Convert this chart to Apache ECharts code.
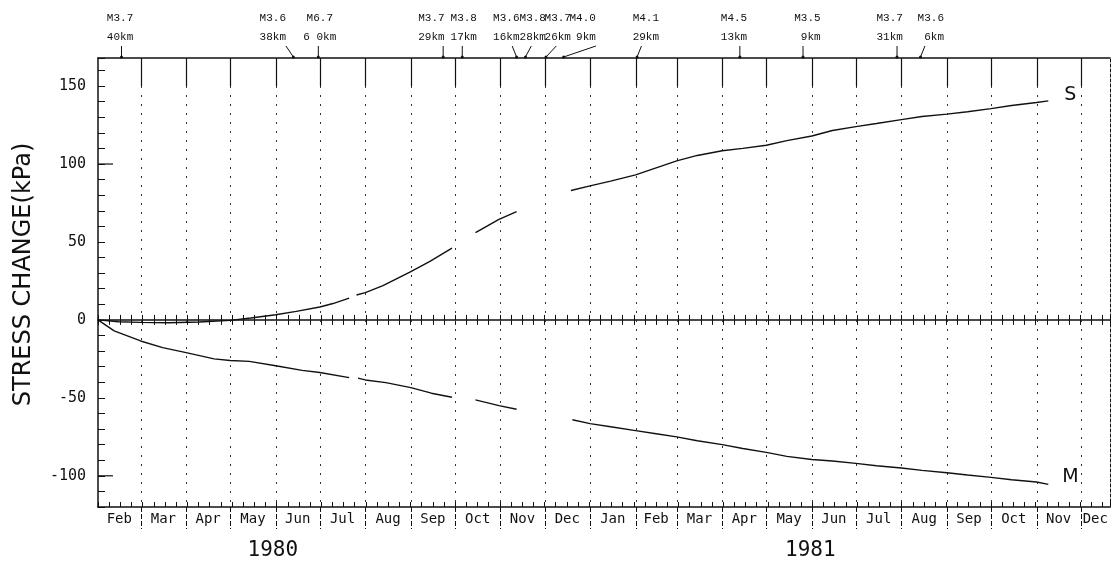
<!DOCTYPE html>
<html><head><meta charset="utf-8">
<script src="https://cdn.jsdelivr.net/npm/echarts@6/dist/echarts.min.js"></script>
<style>html,body{margin:0;padding:0;background:#fff}#c{width:1117px;height:567px}</style>
</head><body><div id="c"></div>
<script>
// ---------------- data ----------------
const axisStart = '1980-02-01';
const axisEnd = '1981-12-21';
const monthStarts = ['1980-02-01','1980-03-01','1980-04-01','1980-05-01','1980-06-01','1980-07-01','1980-08-01','1980-09-01','1980-10-01','1980-11-01','1980-12-01','1981-01-01','1981-02-01','1981-03-01','1981-04-01','1981-05-01','1981-06-01','1981-07-01','1981-08-01','1981-09-01','1981-10-01','1981-11-01','1981-12-01'];
const monthNames = ['Feb','Mar','Apr','May','Jun','Jul','Aug','Sep','Oct','Nov','Dec','Jan','Feb','Mar','Apr','May','Jun','Jul','Aug','Sep','Oct','Nov','Dec'];
const yearNames = ['1980','1981'];
const yearDates = ['1980-05-30','1981-05-31'];
const yTickLabels = [150, 100, 50, 0, -50, -100];

// S component (recorded segments)
const sDates1 = ['1980-02-01','1980-02-15','1980-03-01','1980-03-20','1980-04-10','1980-05-01','1980-05-15','1980-06-01','1980-06-15','1980-07-01','1980-07-10','1980-07-21'];
const sVals1  = [0, -1.2, -1.6, -1.8, -1.3, -0.3, 1.2, 3.3, 5.5, 8.3, 10.5, 14];
const sDates2 = ['1980-07-26','1980-08-01','1980-08-13','1980-08-31','1980-09-14','1980-09-29'];
const sVals2  = [16, 17.5, 22, 30.5, 37.5, 46];
const sDates3 = ['1980-10-15','1980-10-31','1980-11-12'];
const sVals3  = [56, 64.5, 69.5];
const sDates4 = ['1980-12-19','1981-01-01','1981-01-15','1981-02-01','1981-02-15','1981-03-01','1981-03-15','1981-04-01','1981-04-15','1981-05-01','1981-05-15','1981-06-01','1981-06-15','1981-07-01','1981-07-15','1981-08-01','1981-08-15','1981-09-01','1981-09-15','1981-10-01','1981-10-15','1981-11-01','1981-11-09'];
const sVals4  = [83, 86, 89, 93, 97.5, 102, 105.5, 108.5, 110, 112, 115, 118, 121.5, 124, 126, 128.5, 130.5, 132, 133.5, 135.5, 137.5, 139.5, 140.5];

// M component
const mDates1 = ['1980-02-01','1980-02-12','1980-03-01','1980-03-16','1980-04-01','1980-04-20','1980-05-01','1980-05-14','1980-06-01','1980-06-19','1980-07-01','1980-07-21'];
const mVals1  = [0, -7, -13.5, -17.8, -21, -25, -26, -26.6, -29.4, -32.4, -33.7, -37];
const mDates2 = ['1980-07-27','1980-08-01','1980-08-15','1980-09-01','1980-09-15','1980-09-29'];
const mVals2  = [-37.3, -38.5, -40.2, -43.4, -47, -49.6];
const mDates3 = ['1980-10-15','1980-10-31','1980-11-12'];
const mVals3  = [-51.3, -55, -57.3];
const mDates4 = ['1980-12-20','1981-01-01','1981-01-15','1981-02-01','1981-02-15','1981-03-01','1981-03-15','1981-04-01','1981-04-15','1981-05-01','1981-05-15','1981-06-01','1981-06-15','1981-07-01','1981-07-15','1981-08-01','1981-08-15','1981-09-01','1981-09-15','1981-10-01','1981-10-15','1981-11-01','1981-11-09'];
const mVals4  = [-64, -66.5, -68.5, -71, -73, -75, -77.5, -80, -82.5, -85, -87.5, -89.5, -90.5, -92, -93.5, -95, -96.5, -98, -99.5, -101, -102.5, -104, -105.5];

const curveNames = ['S','M'];
const curveLabelDates = ['1981-11-24','1981-11-24'];
const curveLabelVals = [144, -101];

// earthquakes
const eqMag   = ['M3.7','M3.6','M6.7','M3.7','M3.8','M3.6','M3.8','M3.7','M4.0','M4.1','M4.5','M3.5','M3.7','M3.6'];
const eqDepth = ['40km','38km','6 0km','29km','17km','16km','28km','26km',' 9km','29km','13km',' 9km','31km',' 6km'];
const eqDates = ['1980-02-17','1980-06-13','1980-06-30','1980-09-23','1980-10-06','1980-11-12','1980-11-18','1980-12-02','1980-12-14','1981-02-02','1981-04-13','1981-05-26','1981-07-29','1981-08-14'];
const eqLabelDates = ['1980-02-16','1980-05-30','1980-07-01','1980-09-15','1980-10-07','1980-11-05','1980-11-23','1980-12-10','1980-12-27','1981-02-08','1981-04-09','1981-05-29','1981-07-24','1981-08-21'];
const eqLeadDates  = ['1980-02-17','1980-06-08','1980-06-30','1980-09-23','1980-10-06','1980-11-09','1980-11-22','1980-12-09','1981-01-05','1981-02-05','1981-04-13','1981-05-26','1981-07-29','1981-08-17'];

// ---------------- helpers ----------------
const T0 = Date.parse(axisStart + 'T00:00:00Z');
function dayOf(s){ return (Date.parse(s + 'T00:00:00Z') - T0) / 86400000; }
function seg(dates, vals){ return dates.map((d,i)=>[dayOf(d), vals[i]]); }
function joinSegs(list){ const out=[]; list.forEach((s,i)=>{ if(i) out.push([s[0][0]-0.5, null]); out.push(...s); }); return out; }
const sData = joinSegs([seg(sDates1,sVals1), seg(sDates2,sVals2), seg(sDates3,sVals3), seg(sDates4,sVals4)]);
const mData = joinSegs([seg(mDates1,mVals1), seg(mDates2,mVals2), seg(mDates3,mVals3), seg(mDates4,mVals4)]);
const xMax = dayOf(axisEnd);
const monthMid = monthStarts.map((d,i)=>{ const a=dayOf(d); const b = i+1<monthStarts.length ? dayOf(monthStarts[i+1]) : xMax; return [(a+b)/2, 0]; });

const INK = '#111';
const PLOT_FONT = 'DejaVu Sans Mono';
const TYPE_FONT = 'Liberation Mono';

const chart = echarts.init(document.getElementById('c'), null, {renderer:'canvas'});

const option = {
  animation: false,
  backgroundColor: '#fff',
  grid: {left: 98, right: 7, top: 58, bottom: 60, containLabel: false},
  xAxis: [
    {type:'value', min:0, max:xMax, interval:7.6, position:'bottom',
     axisLine:{show:true, onZero:false, lineStyle:{color:INK, width:1.5}},
     axisTick:{show:true, inside:true, length:5, lineStyle:{color:INK}},
     axisLabel:{show:false}, splitLine:{show:false}},
    {type:'value', min:0, max:xMax, position:'top',
     axisLine:{show:true, onZero:false, lineStyle:{color:INK, width:1.5}},
     axisTick:{show:false}, axisLabel:{show:false}, splitLine:{show:false}},
    {type:'value', min:0, max:xMax, interval:7.6, position:'bottom',
     axisLine:{show:true, onZero:true, lineStyle:{color:INK, width:1.5}},
     axisTick:{show:true, inside:true, length:5, lineStyle:{color:INK}},
     axisLabel:{show:false}, splitLine:{show:false}},
    {type:'value', min:0, max:xMax, interval:7.6, position:'bottom',
     axisLine:{show:false, onZero:true},
     axisTick:{show:true, inside:false, length:5, lineStyle:{color:INK}},
     axisLabel:{show:false}, splitLine:{show:false}}
  ],
  yAxis: [
    {type:'value', min:-120, max:168, interval:10, position:'left',
     name:'STRESS CHANGE(kPa)', nameLocation:'middle', nameGap:62, nameRotate:90,
     nameTextStyle:{fontFamily:'DejaVu Sans', fontSize:24, color:INK, padding:[0,0,0,16]},
     axisLine:{show:true, onZero:false, lineStyle:{color:INK, width:1.5}},
     axisTick:{show:true, inside:true, length:7, lineStyle:{color:INK}},
     axisLabel:{margin:12, fontFamily:PLOT_FONT, fontSize:15, color:INK,
       formatter: v => yTickLabels.indexOf(v) >= 0 ? String(v) : ''},
     splitLine:{show:false}},
    {type:'value', min:-120, max:168, position:'right',
     axisLine:{show:true, onZero:false, lineStyle:{color:INK, width:1, type:[3,2]}},
     axisTick:{show:false}, axisLabel:{show:false}, splitLine:{show:false}}
  ],
  series: [
    // month boundary lines
    {type:'custom', xAxisIndex:0, yAxisIndex:0, clip:false, silent:true, z:1,
     data: monthStarts.slice(1).map(d=>[dayOf(d),0]),
     renderItem(params, api){
       const x = Math.round(api.coord([api.value(0),0])[0]) + 0.5;
       const cs = params.coordSys; const top = cs.y, bot = cs.y + cs.height;
       return {type:'group', children:[
         {type:'line', shape:{x1:x,y1:top,x2:x,y2:top+28}, style:{stroke:INK, lineWidth:1.2}},
         {type:'line', shape:{x1:x,y1:top+28,x2:x,y2:bot}, style:{stroke:'#333', lineWidth:1, lineDash:[2,7]}},
         {type:'line', shape:{x1:x,y1:bot,x2:x,y2:bot+22}, style:{stroke:INK, lineWidth:1, lineDash:[5,2]}}
       ]};
     }},
    // month labels
    {type:'custom', xAxisIndex:0, yAxisIndex:0, clip:false, silent:true,
     data: monthMid,
     renderItem(params, api){
       const x = api.coord([api.value(0),0])[0];
       const cs = params.coordSys;
       return {type:'text', x:x, y:cs.y+cs.height+12,
         style:{text:monthNames[params.dataIndex], fontFamily:PLOT_FONT, fontSize:14, fill:INK, align:'center', verticalAlign:'middle'}};
     }},
    // year labels
    {type:'custom', xAxisIndex:0, yAxisIndex:0, clip:false, silent:true,
     data: yearDates.map(d=>[dayOf(d),0]),
     renderItem(params, api){
       const x = api.coord([api.value(0),0])[0];
       const cs = params.coordSys;
       return {type:'text', x:x, y:cs.y+cs.height+44,
         style:{text:yearNames[params.dataIndex], fontFamily:PLOT_FONT, fontSize:21, fill:INK, align:'center', verticalAlign:'middle'}};
     }},
    // long ticks at +-100
    {type:'custom', xAxisIndex:0, yAxisIndex:0, clip:false, silent:true,
     data: [[0,100],[0,-100]],
     renderItem(params, api){
       const p = api.coord([api.value(0), api.value(1)]);
       return {type:'line', shape:{x1:p[0],y1:p[1],x2:p[0]+15,y2:p[1]}, style:{stroke:INK, lineWidth:1.2}};
     }},
    // earthquake annotations
    {type:'custom', xAxisIndex:0, yAxisIndex:0, clip:false, silent:true,
     data: eqDates.map(d=>[dayOf(d),0]),
     renderItem(params, api){
       const i = params.dataIndex;
       const cs = params.coordSys; const top = cs.y;
       const xe = api.coord([api.value(0),0])[0];
       const xl = api.coord([dayOf(eqLabelDates[i]),0])[0];
       const xt = api.coord([dayOf(eqLeadDates[i]),0])[0];
       return {type:'group', children:[
         {type:'text', x:xl, y:top-40, style:{text:eqMag[i], fontFamily:TYPE_FONT, fontSize:11, fill:INK, align:'center', verticalAlign:'middle'}},
         {type:'text', x:xl, y:top-21, style:{text:eqDepth[i], fontFamily:TYPE_FONT, fontSize:11, fill:INK, align:'center', verticalAlign:'middle'}},
         {type:'line', shape:{x1:xt,y1:top-12,x2:xe,y2:top-1}, style:{stroke:INK, lineWidth:1}},
         {type:'circle', shape:{cx:xe, cy:top-1, r:1.5}, style:{fill:INK}}
       ]};
     }},
    // curve names
    {type:'custom', xAxisIndex:0, yAxisIndex:0, clip:false, silent:true,
     data: curveLabelDates.map((d,i)=>[dayOf(d), curveLabelVals[i]]),
     renderItem(params, api){
       const p = api.coord([api.value(0), api.value(1)]);
       return {type:'text', x:p[0], y:p[1], style:{text:curveNames[params.dataIndex], fontFamily:'DejaVu Sans', fontSize:19, fill:INK, align:'center', verticalAlign:'middle'}};
     }},
    // curves
    {type:'line', name:'S', xAxisIndex:0, yAxisIndex:0, data:sData, showSymbol:false, connectNulls:false,
     lineStyle:{color:INK, width:1.4}, z:5},
    {type:'line', name:'M', xAxisIndex:0, yAxisIndex:0, data:mData, showSymbol:false, connectNulls:false,
     lineStyle:{color:INK, width:1.4}, z:5}
  ]
};
chart.setOption(option);
</script></body></html>
